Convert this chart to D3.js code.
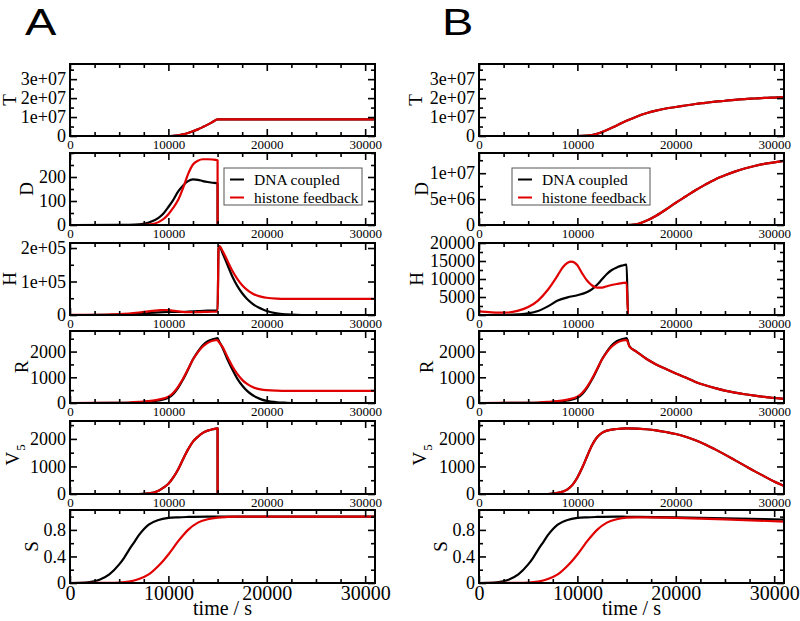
<!DOCTYPE html>
<html><head><meta charset="utf-8">
<script src="https://cdn.jsdelivr.net/npm/d3@7/dist/d3.min.js"></script>
<style>body{margin:0;background:#fff}svg{display:block}
.serif{font-family:"Liberation Serif","DejaVu Serif","Times New Roman",serif;}
</style>
</head><body>
<svg id="chart" width="800" height="621"></svg>
<script>
// ---------------- DATA ----------------
const seriesNames = ["DNA coupled", "histone feedback"];
const xMax = 31000;
const xTicks = [0, 10000, 20000, 30000];
const xTickLabels = ["0", "10000", "20000", "30000"];
const xMinorStep = 2500;
const panelTitles = ["T", "D", "H", "R", "V5", "S"];

// Column A
const A_yMax = [3.8e7, 300, 2.15e5, 2800, 2650, 1.1];
const A_yTicks = [[0,1e7,2e7,3e7],[0,100,200],[0,1e5,2e5],[0,1000,2000],[0,1000,2000],[0,0.4,0.8]];
const A_yTickLabels = [["0","1e+07","2e+07","3e+07"],["0","100","200"],["0","1e+05","2e+05"],["0","1000","2000"],["0","1000","2000"],["0","0.4","0.8"]];
const A_yMinor = [5e6, 50, 5e4, 500, 500, 0.2];

const A_T_dna = [[0,0],[10000,0],[10500,1e5],[11000,4e5],[11500,9e5],[12000,1.6e6],[12500,2.5e6],[13000,3.5e6],[13500,4.7e6],[14000,6e6],[14500,7.4e6],[15000,8.8e6],[31000,8.8e6]];
const A_T_hist = [[0,0],[10000,0],[10500,1e5],[11000,4e5],[11500,9e5],[12000,1.6e6],[12500,2.5e6],[13000,3.5e6],[13500,4.7e6],[14000,6e6],[14500,7.4e6],[15000,8.8e6],[31000,8.8e6]];
const A_D_dna = [[0,0],[5000,0.5],[6000,1],[7000,3],[8000,10],[9000,30],[9500,48],[10000,75],[10500,105],[11000,140],[11500,165],[12000,183],[12500,190],[13000,188],[13500,183],[14000,179],[14500,176],[15000,173],[15001,0],[31000,0]];
const A_D_hist = [[0,0],[7000,0],[8000,2],[9000,12],[9500,25],[10000,45],[10500,72],[11000,105],[11500,155],[12000,212],[12500,252],[13000,268],[13500,274],[14000,274],[14500,273],[15000,270],[15001,0],[31000,0]];
const A_H_dna = [[0,0],[3000,200],[5000,1000],[6000,2000],[7000,3500],[8000,6000],[9000,8000],[10000,9000],[11000,9000],[12000,10000],[13000,11500],[14000,13000],[15000,14000],[15100,200000],[15200,205000],[15500,185000],[16000,150000],[16500,115000],[17000,87000],[17500,65000],[18000,48000],[18500,35000],[19000,25000],[19500,18000],[20000,12000],[21000,5000],[22000,2000],[23000,500],[24000,0],[31000,0]];
const A_H_hist = [[0,500],[2000,600],[4000,1500],[5000,2500],[6000,4500],[7000,7500],[8000,11000],[9000,14000],[9500,15000],[10000,14500],[11000,11000],[12000,8500],[13000,8500],[14000,9500],[15000,10000],[15100,200000],[15200,205000],[15500,192000],[16000,162000],[16500,132000],[17000,108000],[17500,89000],[18000,75000],[18500,65000],[19000,58000],[19500,54000],[20000,51500],[21000,49000],[22000,48200],[24000,48000],[31000,48000]];
const A_R_dna = [[0,0],[4000,2],[6000,10],[7000,25],[8000,50],[9000,100],[10000,200],[10500,350],[11000,600],[11500,920],[12000,1300],[12500,1700],[13000,2000],[13500,2250],[14000,2400],[14500,2480],[14900,2515],[15000,2520],[15100,2440],[15500,2150],[16000,1700],[16500,1300],[17000,950],[17500,680],[18000,470],[18500,320],[19000,210],[19500,130],[20000,80],[21000,30],[22000,10],[23000,0],[31000,0]];
const A_R_hist = [[0,0],[4000,5],[6000,20],[7000,40],[8000,70],[9000,130],[10000,250],[10500,400],[11000,640],[11500,950],[12000,1320],[12500,1690],[13000,1980],[13500,2200],[14000,2340],[14500,2420],[14900,2445],[15000,2450],[15100,2390],[15500,2180],[16000,1800],[16500,1430],[17000,1130],[17500,900],[18000,740],[18500,630],[19000,560],[19500,520],[20000,500],[21000,480],[22000,472],[31000,470]];
const A_V_dna = [[0,0],[7000,0],[8000,20],[9000,120],[9500,230],[10000,370],[10500,600],[11000,900],[11500,1270],[12000,1620],[12500,1900],[13000,2080],[13500,2220],[14000,2300],[14500,2350],[15000,2380],[15001,0],[31000,0]];
const A_V_hist = [[0,0],[7000,0],[8000,20],[9000,120],[9500,230],[10000,370],[10500,600],[11000,900],[11500,1270],[12000,1620],[12500,1900],[13000,2080],[13500,2220],[14000,2300],[14500,2350],[15000,2380],[15001,0],[31000,0]];
const A_S_dna = [[0,0],[1000,0.003],[2000,0.015],[3000,0.05],[4000,0.13],[5000,0.28],[5500,0.38],[6000,0.5],[6500,0.61],[7000,0.72],[7500,0.81],[8000,0.88],[9000,0.95],[10000,0.98],[11000,0.99],[12000,0.995],[14000,1.0],[31000,1.0]];
const A_S_hist = [[0,0],[4000,0.002],[5000,0.005],[6000,0.02],[7000,0.06],[8000,0.13],[9000,0.26],[9500,0.34],[10000,0.43],[10500,0.53],[11000,0.63],[11500,0.72],[12000,0.8],[13000,0.91],[14000,0.96],[15000,0.985],[16000,0.995],[17000,1.0],[31000,1.0]];

// Column B
const B_yMax = [3.8e7, 1.39e7, 20000, 2800, 2650, 1.1];
const B_yTicks = [[0,1e7,2e7,3e7],[0,5e6,1e7],[0,5000,10000,15000,20000],[0,1000,2000],[0,1000,2000],[0,0.4,0.8]];
const B_yTickLabels = [["0","1e+07","2e+07","3e+07"],["0","5e+06","1e+07"],["0","5000","10000","15000","20000"],["0","1000","2000"],["0","1000","2000"],["0","0.4","0.8"]];
const B_yMinor = [5e6, 2.5e6, 2500, 500, 500, 0.2];

const B_T_dna = [[0,0],[10000,0],[11000,2e5],[12000,1.2e6],[13000,3.2e6],[14000,5.6e6],[15000,8e6],[16000,1.02e7],[17000,1.2e7],[18000,1.34e7],[19000,1.45e7],[20000,1.53e7],[21000,1.61e7],[22000,1.69e7],[23000,1.75e7],[24000,1.81e7],[25000,1.86e7],[26000,1.91e7],[27000,1.95e7],[28000,1.98e7],[29000,2.01e7],[30000,2.03e7],[31000,2.05e7]];
const B_T_hist = [[0,0],[10000,0],[11000,2e5],[12000,1.2e6],[13000,3.2e6],[14000,5.6e6],[15000,8e6],[16000,1.02e7],[17000,1.2e7],[18000,1.34e7],[19000,1.45e7],[20000,1.53e7],[21000,1.61e7],[22000,1.69e7],[23000,1.75e7],[24000,1.81e7],[25000,1.86e7],[26000,1.91e7],[27000,1.95e7],[28000,1.98e7],[29000,2.01e7],[30000,2.03e7],[31000,2.05e7]];
const B_D_dna = [[0,0],[15000,0],[16000,1.5e5],[17000,8e5],[18000,1.8e6],[19000,3e6],[20000,4.3e6],[21000,5.5e6],[22000,6.7e6],[23000,7.8e6],[24000,8.8e6],[25000,9.6e6],[26000,1.03e7],[27000,1.09e7],[28000,1.14e7],[29000,1.18e7],[30000,1.21e7],[31000,1.24e7]];
const B_D_hist = [[0,0],[15000,0],[16000,1.5e5],[17000,8e5],[18000,1.8e6],[19000,3e6],[20000,4.3e6],[21000,5.5e6],[22000,6.7e6],[23000,7.8e6],[24000,8.8e6],[25000,9.6e6],[26000,1.03e7],[27000,1.09e7],[28000,1.14e7],[29000,1.18e7],[30000,1.21e7],[31000,1.24e7]];
const B_H_dna = [[0,0],[2000,0],[3000,50],[4000,180],[5000,450],[6000,1100],[7000,2400],[8000,4000],[9000,4900],[10000,5500],[11000,6400],[11500,7200],[12000,8400],[12500,9900],[13000,11400],[13500,12500],[14000,13200],[14500,13700],[15000,14000],[15150,0],[31000,0]];
const B_H_hist = [[0,1000],[1000,800],[2000,650],[3000,700],[4000,1200],[5000,2200],[6000,4000],[7000,7000],[8000,11000],[8500,13200],[9000,14500],[9400,14800],[10000,13800],[10500,11500],[11000,9500],[11500,8200],[12000,7600],[12500,7600],[13000,8000],[14000,8600],[15000,9000],[15150,0],[31000,0]];
const B_R_dna = [[0,0],[4000,2],[6000,10],[7000,25],[8000,50],[9000,100],[10000,200],[10500,350],[11000,600],[11500,920],[12000,1300],[12500,1700],[13000,2000],[13500,2250],[14000,2400],[14500,2480],[14900,2515],[15000,2520],[15300,2200],[16000,2000],[17000,1720],[18000,1500],[19000,1320],[20000,1150],[21000,990],[22000,820],[23000,690],[24000,580],[25000,480],[26000,405],[27000,340],[28000,285],[29000,235],[30000,195],[31000,160]];
const B_R_hist = [[0,0],[4000,5],[6000,20],[7000,40],[8000,70],[9000,130],[10000,250],[10500,400],[11000,640],[11500,950],[12000,1320],[12500,1690],[13000,1980],[13500,2200],[14000,2340],[14500,2420],[14900,2445],[15000,2450],[15300,2190],[16000,2000],[17000,1720],[18000,1500],[19000,1320],[20000,1150],[21000,990],[22000,820],[23000,690],[24000,580],[25000,480],[26000,405],[27000,340],[28000,285],[29000,235],[30000,195],[31000,160]];
const B_V_dna = [[0,0],[7000,0],[8000,40],[9000,170],[9500,330],[10000,600],[10500,960],[11000,1380],[11500,1780],[12000,2060],[12500,2220],[13000,2300],[14000,2360],[15000,2380],[16000,2375],[17000,2350],[18000,2310],[19000,2250],[20000,2180],[21000,2080],[22000,1950],[23000,1800],[24000,1620],[25000,1430],[26000,1230],[27000,1030],[28000,830],[29000,640],[30000,450],[31000,290]];
const B_V_hist = [[0,0],[7000,0],[8000,40],[9000,170],[9500,330],[10000,600],[10500,960],[11000,1380],[11500,1780],[12000,2060],[12500,2220],[13000,2300],[14000,2360],[15000,2380],[16000,2375],[17000,2350],[18000,2310],[19000,2250],[20000,2180],[21000,2080],[22000,1950],[23000,1800],[24000,1620],[25000,1430],[26000,1230],[27000,1030],[28000,830],[29000,640],[30000,450],[31000,290]];
const B_S_dna = [[0,0],[1000,0.003],[2000,0.015],[3000,0.05],[4000,0.13],[5000,0.28],[5500,0.38],[6000,0.5],[6500,0.61],[7000,0.72],[7500,0.81],[8000,0.88],[9000,0.95],[10000,0.98],[11000,0.99],[12000,0.995],[14000,1.0],[15000,0.998],[20000,0.99],[25000,0.975],[31000,0.955]];
const B_S_hist = [[0,0],[4000,0.002],[5000,0.005],[6000,0.02],[7000,0.06],[8000,0.13],[9000,0.26],[9500,0.34],[10000,0.43],[10500,0.53],[11000,0.63],[11500,0.72],[12000,0.8],[13000,0.91],[14000,0.96],[15000,0.985],[16000,0.99],[17000,0.99],[20000,0.98],[25000,0.96],[31000,0.925]];

// ---------------- LAYOUT ----------------
const colors = ["#000000", "#e00000"];
const tops = [64, 153, 243, 331, 421, 510];
const heights = [72, 72, 72, 72, 73, 73];
const columns = [
  {key:"A", left:70, right:375, labelX:25, yMax:A_yMax, yTicks:A_yTicks, yTickLabels:A_yTickLabels, yMinor:A_yMinor,
   titleX:[9,26,9,21,12,31], legendX:224,
   series:[[A_T_dna,A_T_hist],[A_D_dna,A_D_hist],[A_H_dna,A_H_hist],[A_R_dna,A_R_hist],[A_V_dna,A_V_hist],[A_S_dna,A_S_hist]]},
  {key:"B", left:479, right:784, labelX:442, yMax:B_yMax, yTicks:B_yTicks, yTickLabels:B_yTickLabels, yMinor:B_yMinor,
   titleX:[415,421,416,426,419,440], legendX:512,
   series:[[B_T_dna,B_T_hist],[B_D_dna,B_D_hist],[B_H_dna,B_H_hist],[B_R_dna,B_R_hist],[B_V_dna,B_V_hist],[B_S_dna,B_S_hist]]}
];

const svg = d3.select("#chart");
svg.append("rect").attr("width",800).attr("height",621).attr("fill","#fff");

function minorValues(max, step, majors){
  const out = [];
  for (let v = 0; v <= max + 1e-9*max; v += step) {
    if (!majors.some(m => Math.abs(m - v) < step*1e-6)) out.push(v);
  }
  return out;
}

columns.forEach((col, ci) => {
  const x = d3.scaleLinear().domain([0, xMax]).range([col.left, col.right]);
  const xMinor = minorValues(xMax, xMinorStep, xTicks);

  svg.append("text")
    .attr("transform", `translate(${col.labelX},35) scale(1.27,1)`)
    .style("font-family", "'Liberation Sans',Arial,sans-serif")
    .attr("font-size", 37).attr("fill", "#000").text(col.key);

  tops.forEach((top, i) => {
    const bottom = top + heights[i];
    const isLast = i === tops.length - 1;
    const y = d3.scaleLinear().domain([0, col.yMax[i]]).range([bottom, top]);
    const g = svg.append("g");
    const clipId = `clip-${ci}-${i}`;
    g.append("clipPath").attr("id", clipId).append("rect")
      .attr("x", col.left).attr("y", top).attr("width", col.right - col.left).attr("height", bottom - top);

    const line = d3.line().x(d => x(d[0])).y(d => y(d[1])).curve(d3.curveMonotoneX);
    col.series[i].forEach((data, si) => {
      g.append("path").attr("d", line(data)).attr("fill", "none")
        .attr("stroke", colors[si]).attr("stroke-width", 2.2)
        .attr("stroke-linejoin", "round")
        .attr("clip-path", `url(#${clipId})`);
    });

    const styleAxis = sel => {
      sel.attr("font-family", null).attr("font-size", null);
      sel.select(".domain").remove();
      sel.selectAll(".tick line").attr("stroke", "#000").attr("stroke-width", 1.6);
    };
    const xLabelSize = isLast ? 20 : 13;
    g.append("g").attr("transform", `translate(0,${bottom})`)
      .call(d3.axisBottom(x).tickValues(xTicks).tickSize(-7).tickPadding(isLast ? 3 : 4)
        .tickFormat((d, k) => xTickLabels[k]))
      .call(styleAxis)
      .call(s => s.selectAll("text").attr("class", "serif").style("font-size", xLabelSize + "px").attr("fill", "#000"));
    g.append("g").attr("transform", `translate(0,${bottom})`)
      .call(d3.axisBottom(x).tickValues(xMinor).tickSize(-4).tickFormat(""))
      .call(styleAxis);
    g.append("g").attr("transform", `translate(0,${top})`)
      .call(d3.axisTop(x).tickValues(xTicks).tickSize(-7).tickFormat(""))
      .call(styleAxis);
    g.append("g").attr("transform", `translate(0,${top})`)
      .call(d3.axisTop(x).tickValues(xMinor).tickSize(-4).tickFormat(""))
      .call(styleAxis);

    const yMin = minorValues(col.yMax[i], col.yMinor[i], col.yTicks[i]);
    const labels = col.yTickLabels[i];
    g.append("g").attr("transform", `translate(${col.left},0)`)
      .call(d3.axisLeft(y).tickValues(col.yTicks[i]).tickSize(-7).tickPadding(4)
        .tickFormat((d, k) => labels[k]))
      .call(styleAxis)
      .call(s => s.selectAll("text").attr("class", "serif").style("font-size", "18px").attr("fill", "#000"));
    g.append("g").attr("transform", `translate(${col.left},0)`)
      .call(d3.axisLeft(y).tickValues(yMin).tickSize(-4).tickFormat(""))
      .call(styleAxis);
    g.append("g").attr("transform", `translate(${col.right},0)`)
      .call(d3.axisRight(y).tickValues(col.yTicks[i]).tickSize(-7).tickFormat(""))
      .call(styleAxis);
    g.append("g").attr("transform", `translate(${col.right},0)`)
      .call(d3.axisRight(y).tickValues(yMin).tickSize(-4).tickFormat(""))
      .call(styleAxis);

    g.append("rect").attr("x", col.left).attr("y", top)
      .attr("width", col.right - col.left).attr("height", bottom - top)
      .attr("fill", "none").attr("stroke", "#000").attr("stroke-width", 2);

    const title = panelTitles[i];
    const cy = (top + bottom) / 2;
    if (title === "V5") {
      const t = g.append("text").attr("class", "serif")
        .attr("transform", `translate(${col.titleX[i]},${cy + 8}) rotate(-90)`)
        .style("font-size", "19px").attr("fill", "#000")
        .attr("text-anchor", "start").attr("dy", "0.35em");
      t.append("tspan").text("V");
      t.append("tspan").style("font-size", "13px").attr("dx", 1).attr("dy", 6).text("5");
    } else {
      g.append("text").attr("class", "serif")
        .attr("transform", `translate(${col.titleX[i]},${cy}) rotate(-90)`)
        .style("font-size", "19px").attr("fill", "#000")
        .attr("text-anchor", "middle").attr("dy", "0.35em").text(title);
    }

    if (i === 1) {
      const lx = col.legendX, ly = 168;
      const lg = g.append("g");
      lg.append("rect").attr("x", lx).attr("y", ly).attr("width", 138).attr("height", 37)
        .attr("fill", "#fff").attr("stroke", "#555").attr("stroke-width", 1);
      seriesNames.forEach((name, si) => {
        const yy = ly + 11.5 + si * 18;
        lg.append("line").attr("x1", lx + 6).attr("x2", lx + 20).attr("y1", yy).attr("y2", yy)
          .attr("stroke", colors[si]).attr("stroke-width", 2);
        lg.append("text").attr("class", "serif").attr("x", lx + 30).attr("y", yy + 5)
          .style("font-size", "15.5px").attr("fill", "#000").text(name);
      });
    }

    if (isLast) {
      g.append("text").attr("class", "serif").attr("x", (col.left + col.right) / 2).attr("y", 615)
        .attr("text-anchor", "middle").style("font-size", "20px")
        .attr("fill", "#000").text("time / s");
    }
  });
});
</script>
</body></html>
